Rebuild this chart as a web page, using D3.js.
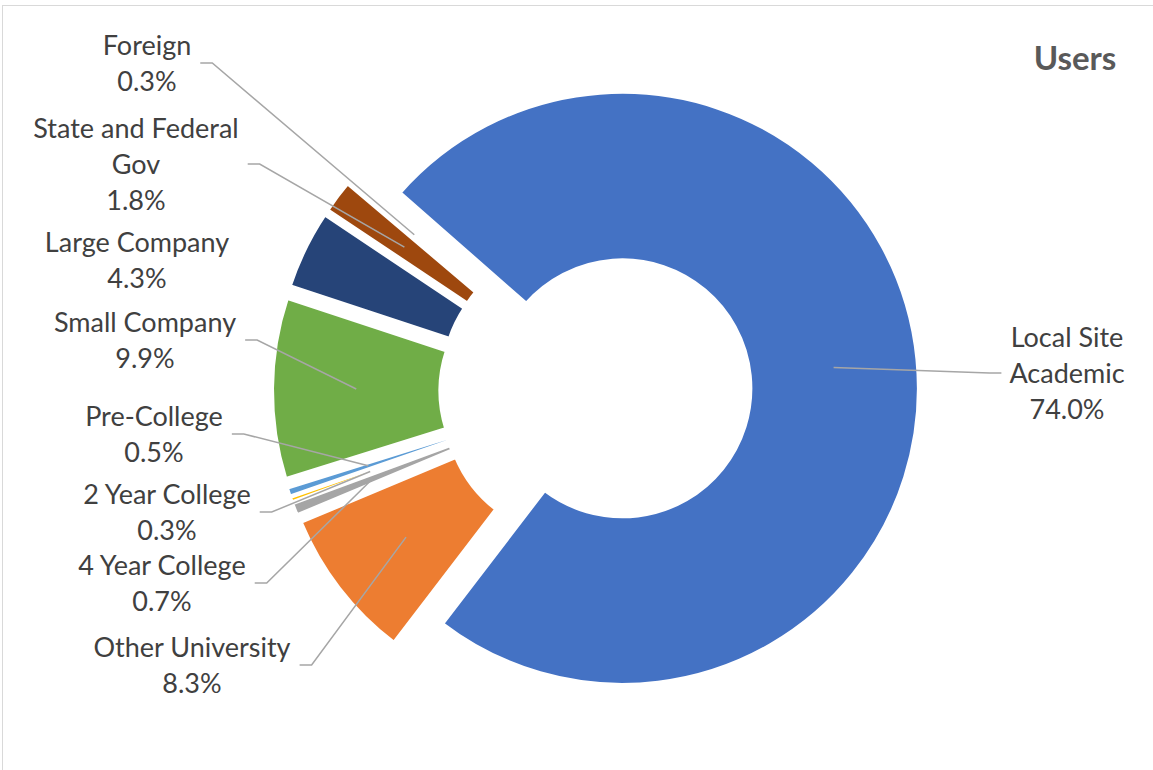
<!DOCTYPE html>
<html>
<head>
<meta charset="utf-8">
<script src="https://cdn.jsdelivr.net/npm/d3@7"></script>
<style>
  html, body { margin: 0; padding: 0; background: #ffffff; }
  svg { display: block; }
</style>
</head>
<body>
<svg id="chart" width="1153" height="770"></svg>
<script>
// Users by affiliation (percent of total)
const categories = [
  "Local Site Academic", "Other University", "4 Year College", "2 Year College",
  "Pre-College", "Small Company", "Large Company", "State and Federal Gov", "Foreign"
];
const values = [74.0, 8.3, 0.7, 0.3, 0.5, 9.9, 4.3, 1.8, 0.3];
const sliceColors = [
  "#4472C4", "#ED7D31", "#A5A5A5", "#FFC000", "#5B9BD5",
  "#70AD47", "#264478", "#9E480E", "#FFFFFF"
];
// How each category name is wrapped in its label
const labelLines = [
  ["Local Site", "Academic"], ["Other University"], ["4 Year College"], ["2 Year College"],
  ["Pre-College"], ["Small Company"], ["Large Company"], ["State and Federal", "Gov"], ["Foreign"]
];
// Label block placement: centre x, centre y of first line, side of leader stub, leader shown
const labelPlacement = [
  { x: 1067, y: 337, side: "left",  leader: true },
  { x: 192,  y: 647, side: "right", leader: true },
  { x: 162,  y: 565, side: "right", leader: true },
  { x: 167,  y: 494, side: "right", leader: true },
  { x: 154,  y: 416, side: "right", leader: true },
  { x: 145,  y: 322, side: "right", leader: true },
  { x: 137,  y: 242, side: "right", leader: false },
  { x: 136,  y: 128, side: "right", leader: true },
  { x: 147,  y: 45,  side: "right", leader: true }
];

const W = 1153, H = 770;
const cx = 595.5, cy = 391;        // doughnut centre
const outerR = 296.5, innerR = 128;
const explode = 27;                // radial offset of every slice
const firstAngle = 311.3 * Math.PI / 180;
const fontFamily = "Lato, 'Open Sans', 'Liberation Sans', sans-serif";
const fontSize = 27;
const lineGap = 36;

const svg = d3.select("#chart");

svg.append("rect")
  .attr("width", W).attr("height", H).attr("fill", "#ffffff");

// chart area frame
svg.append("rect")
  .attr("x", 2.5).attr("y", 5.5)
  .attr("width", W + 10).attr("height", H + 10)
  .attr("fill", "none")
  .attr("stroke", "#d9d9d9")
  .attr("stroke-width", 1);

const data = categories.map((c, i) => ({ name: c, value: values[i], i }));

const pie = d3.pie()
  .sort(null)
  .value(d => d.value)
  .startAngle(firstAngle)
  .endAngle(firstAngle + 2 * Math.PI);

const arc = d3.arc().innerRadius(innerR).outerRadius(outerR);
const arcs = pie(data);

function offsetOf(a) {
  const mid = (a.startAngle + a.endAngle) / 2;
  return [explode * Math.sin(mid), -explode * Math.cos(mid)];
}

const ring = svg.append("g").attr("transform", `translate(${cx},${cy})`);

ring.selectAll("path.slice")
  .data(arcs)
  .join("path")
  .attr("class", "slice")
  .attr("transform", a => { const [dx, dy] = offsetOf(a); return `translate(${dx},${dy})`; })
  .attr("d", arc)
  .attr("fill", a => sliceColors[a.data.i])
  .attr("stroke", "#ffffff")
  .attr("stroke-width", 4)
  .attr("stroke-linejoin", "miter");

// Labels
const labelG = svg.append("g");
const leaderG = svg.append("g");

arcs.forEach(a => {
  const i = a.data.i;
  const p = labelPlacement[i];
  const lines = labelLines[i].concat([values[i].toFixed(1) + "%"]);
  const t = labelG.append("text")
    .attr("font-family", fontFamily)
    .attr("font-size", fontSize)
    .attr("fill", "#404040")
    .attr("text-anchor", "middle");
  lines.forEach((ln, k) => {
    t.append("tspan")
      .attr("x", p.x)
      .attr("y", p.y + k * lineGap + fontSize * 0.36)
      .text(ln);
  });

  if (!p.leader) return;
  const box = t.node().getBBox();
  const midY = p.y + (lines.length - 1) * lineGap / 2;
  const [dx, dy] = offsetOf(a);
  const c = arc.centroid(a);
  const end = [cx + dx + c[0], cy + dy + c[1]];
  let pts;
  if (p.side === "right") {
    const sx = box.x + box.width + 9;
    pts = [[sx, midY], [sx + 12, midY], end];
  } else {
    const sx = box.x - 8;
    pts = [[sx, midY], [sx - 12, midY], end];
  }
  leaderG.append("path")
    .attr("d", d3.line()(pts))
    .attr("fill", "none")
    .attr("stroke", "#a6a6a6")
    .attr("stroke-width", 1.5);
});

// Title
svg.append("text")
  .attr("x", 1075)
  .attr("y", 58 + 12)
  .attr("text-anchor", "middle")
  .attr("font-family", fontFamily)
  .attr("font-weight", "bold")
  .attr("font-size", 33)
  .attr("fill", "#595959")
  .text("Users");
</script>
</body>
</html>
